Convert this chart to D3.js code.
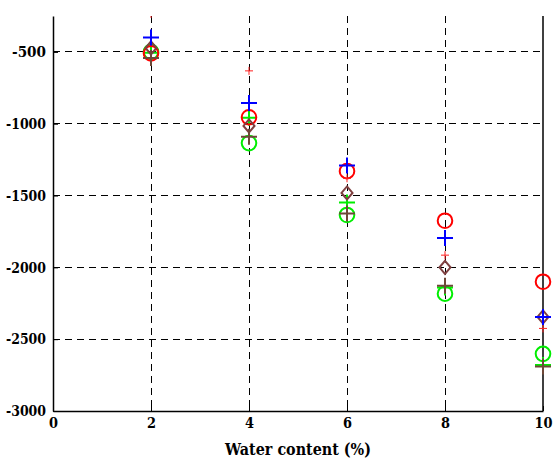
<!DOCTYPE html>
<html>
<head>
<meta charset="utf-8">
<script src="https://cdn.jsdelivr.net/npm/d3@7"></script>
<style>
  body { margin: 0; background: #fff; }
</style>
</head>
<body>
<div id="chart"></div>
<script>
var waterContent = [2, 4, 6, 8, 10];
var xTicks = [0, 2, 4, 6, 8, 10];
var yTicks = [-3000, -2500, -2000, -1500, -1000, -500];

// one array per marker series
var bluePlus     = [-400, -855, -1290, -1795, -2345];
var redSmallPlus = [-235, -632, -1380, -1915, -2425];
var redCircle    = [-510, -955, -1330, -1675, -2100];
var greenCircle  = [-500, -1135, -1635, -2183, -2602];
var greenPlus    = [-505, -958, -1548, -2140, -2680];
var brownDiamond = [-472, -1015, -1482, -2000, -2345];
var brownPlus    = [-542, -1090, -1625, -2128, -2690];

// only DejaVu Serif resolves to a serif face here, squeeze it with textLength
var serif = "DejaVu Serif";

var width = 555, height = 459;
var margin = { left: 53, right: 12, top: 16, bottom: 48 };

var svg = d3.select("#chart").append("svg")
    .attr("width", width).attr("height", height);

var x = d3.scaleLinear().domain([0, 10]).range([margin.left, width - margin.right]);
var y = d3.scaleLinear().domain([-3000, -250]).range([height - margin.bottom, margin.top]);

svg.append("defs").append("clipPath").attr("id", "plotClip")
  .append("rect")
    .attr("x", x(0) - 10).attr("y", y(-250))
    .attr("width", x(10) - x(0) + 20).attr("height", y(-3000) - y(-250) + 10);

// dashed grid
var grid = svg.append("g").attr("class", "grid").attr("shape-rendering", "crispEdges");
grid.selectAll("line.gx")
    .data(xTicks.filter(function(d) { return d > 0 && d < 10; }))
    .enter().append("line")
    .attr("x1", function(d) { return x(d); }).attr("x2", function(d) { return x(d); })
    .attr("y1", y(-250)).attr("y2", y(-3000))
    .attr("stroke", "#000").attr("stroke-width", 1).attr("stroke-dasharray", "7,5");
grid.selectAll("line.gy")
    .data(yTicks.filter(function(d) { return d > -3000; }))
    .enter().append("line")
    .attr("y1", function(d) { return y(d); }).attr("y2", function(d) { return y(d); })
    .attr("x1", x(0)).attr("x2", x(10))
    .attr("stroke", "#000").attr("stroke-width", 1).attr("stroke-dasharray", "7,5");

// axes
var fmt = function(d) { return String(d); };
var xAxis = d3.axisBottom(x).tickValues(xTicks).tickFormat(fmt).tickSizeInner(-5).tickSizeOuter(0).tickPadding(6);
var yAxis = d3.axisLeft(y).tickValues(yTicks).tickFormat(fmt).tickSizeInner(-5).tickSizeOuter(0).tickPadding(7);

var gx = svg.append("g").attr("transform", "translate(0," + y(-3000) + ")").call(xAxis);
var gy = svg.append("g").attr("transform", "translate(" + x(0) + ",0)").call(yAxis);
[gx, gy].forEach(function(g) {
    g.attr("font-family", serif);
    g.select(".domain").attr("stroke", "#000").attr("stroke-width", 1.5);
    g.selectAll(".tick line").attr("stroke", "#000");
    g.selectAll(".tick text").attr("fill", "#000")
        .style("font-family", serif).style("font-weight", "bold").style("font-size", "15px")
        .attr("lengthAdjust", "spacingAndGlyphs")
        .attr("textLength", function(d) {
            var s = String(d);
            return s.length === 1 ? 9 : s.length === 2 ? 18 : s.length === 4 ? 34 : 40;
        });
});

// right border
svg.append("line")
    .attr("x1", x(10)).attr("x2", x(10)).attr("y1", y(-250)).attr("y2", y(-3000))
    .attr("stroke", "#000").attr("stroke-width", 1.5);

svg.append("text")
    .attr("x", (x(0) + x(10)) / 2).attr("y", 455)
    .attr("text-anchor", "middle")
    .style("font-family", serif).style("font-weight", "bold").style("font-size", "17px")
    .attr("lengthAdjust", "spacingAndGlyphs").attr("textLength", 146)
    .text("Water content (%)");

// markers
var marks = svg.append("g").attr("clip-path", "url(#plotClip)");

function plusPath(s) {
    return "M" + (-s) + ",0H" + s + "M0," + (-s) + "V" + s;
}
function diamondPath(w, h) {
    return "M0," + (-h) + "L" + w + ",0L0," + h + "L" + (-w) + ",0Z";
}

function drawSeries(values, kind, color, size, sw) {
    var pts = marks.append("g").selectAll("path")
        .data(values.map(function(v, i) { return { x: waterContent[i], y: v }; }))
        .enter();
    if (kind === "circle") {
        pts.append("circle")
            .attr("cx", function(d) { return x(d.x); })
            .attr("cy", function(d) { return y(d.y); })
            .attr("r", size)
            .attr("fill", "none").attr("stroke", color).attr("stroke-width", sw);
    } else {
        pts.append("path")
            .attr("transform", function(d) { return "translate(" + x(d.x) + "," + y(d.y) + ")"; })
            .attr("d", kind === "plus" ? plusPath(size) : diamondPath(size * 0.85, size))
            .attr("fill", "none").attr("stroke", color).attr("stroke-width", sw);
    }
}

drawSeries(greenCircle, "circle", "#00ee00", 7.3, 2);
drawSeries(greenPlus, "plus", "#00ee00", 8, 2);
drawSeries(redCircle, "circle", "#ff0000", 7.3, 2);
drawSeries(redSmallPlus, "plus", "#ff2020", 4, 1);
drawSeries(brownDiamond, "diamond", "#7f4040", 6.5, 2);
drawSeries(brownPlus, "plus", "#6e4838", 8, 2);
drawSeries(bluePlus, "plus", "#0000ff", 8, 2);
</script>
</body>
</html>
